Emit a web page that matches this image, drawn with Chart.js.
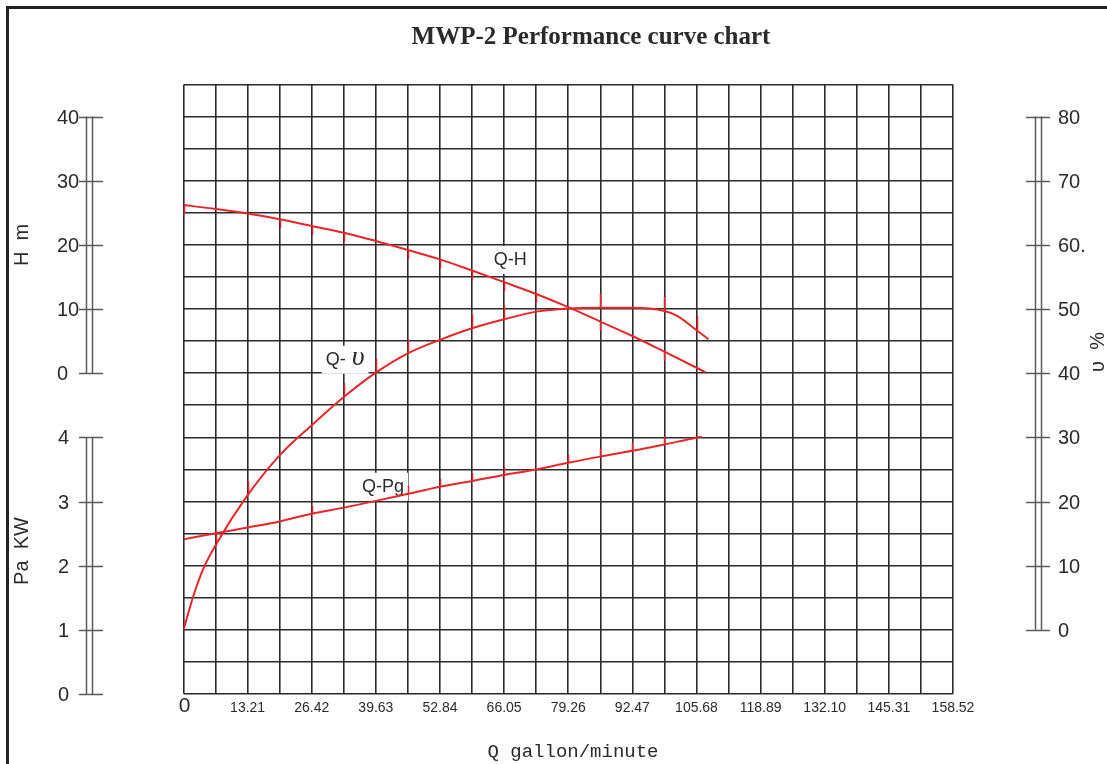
<!DOCTYPE html>
<html><head><meta charset="utf-8">
<script src="https://cdn.jsdelivr.net/npm/chart.js@4.4.1/dist/chart.umd.min.js"></script>
<style>html,body{margin:0;padding:0;background:#fff;}#wrap{width:1107px;height:764px;position:relative;}</style>
</head><body><div id="wrap"><canvas id="c"></canvas></div>
<script>
// ---- data (Q in gallon/minute) ----
const chartTitle = 'MWP-2 Performance curve chart';
const xTitle = 'Q gallon/minute';
const xTickLabels = ['0','13.21','26.42','39.63','52.84','66.05','79.26','92.47','105.68','118.89','132.10','145.31','158.52'];
const headTicks = [40, 30, 20, 10, 0];
const headTickLabels = ['40','30','20','10','0'];
const powerTicks = [4, 3, 2, 1, 0];
const powerTickLabels = ['4','3','2','1','0'];
const effTicks = [80, 70, 60, 50, 40, 30, 20, 10, 0];
const effTickLabels = ['80','70','60.','50','40','30','20','10','0'];

const qHead = [0, 6.605, 13.21, 19.815, 26.42, 33.025, 39.63, 46.235, 52.84, 59.445, 66.05, 72.655, 79.26, 85.865, 92.47, 99.075, 105.68, 107.5];
const headM = [26.2, 25.6, 24.9, 24.0, 22.95, 21.9, 20.6, 19.2, 17.75, 16.0, 14.2, 12.35, 10.3, 8.05, 5.8, 3.35, 0.85, 0.15];
const headMarks = [0, 3, 4, 5, 7, 8, 9, 10, 11, 13, 15];

const qEff = [0, 2.0, 4.0, 6.605, 13.21, 19.815, 26.42, 33.025, 39.63, 46.235, 52.84, 59.445, 66.05, 72.655, 79.26, 85.865, 92.47, 99.075, 101.8, 105.68, 108.15];
const effPct = [0, 5.2, 9.4, 13.2, 21.0, 27.2, 31.9, 36.3, 40.1, 43.1, 45.2, 47.0, 48.4, 49.6, 50.1, 50.2, 50.2, 49.7, 48.9, 46.7, 45.3];
const effMarks = [3, 4, 7, 8, 9, 11, 12, 15, 17, 19];

const qPow = [0, 6.605, 13.21, 19.815, 26.42, 33.025, 39.63, 46.235, 52.84, 59.445, 66.05, 72.655, 79.26, 85.865, 92.47, 99.075, 105.68, 106.8];
const powKW = [2.41, 2.505, 2.595, 2.69, 2.81, 2.905, 3.01, 3.12, 3.23, 3.32, 3.415, 3.5, 3.605, 3.7, 3.79, 3.89, 3.995, 4.01];
const powMarks = [4, 7, 8, 9, 10, 12, 13, 14, 15];

const curveLabels = [
  {text: 'Q-H', q: 67.3, v: 17.65, axis: 'yH'},
  {text: 'Q-', sym: 'υ', q: 33.3, v: 42.1, axis: 'yE'},
  {text: 'Q-Pg', q: 41.1, v: 3.23, axis: 'yP'}
];

const RED = '#e8262a';
const GRID = '#2b2b2b';
const AX = '#5a5a5a';
const TXT = '#2a2a2a';

function pts(xs, ys){ return xs.map((x,i)=>({x:x, y:ys[i]})); }

const custom = {
  id: 'custom',
  beforeDraw(chart){
    const ctx = chart.ctx;
    ctx.save();
    ctx.fillStyle = '#fff';
    ctx.fillRect(0,0,chart.width,chart.height);
    ctx.strokeStyle = '#222';
    ctx.lineWidth = 3;
    ctx.beginPath();
    ctx.moveTo(7.5, chart.height+5); ctx.lineTo(7.5, 7.5); ctx.lineTo(chart.width+5, 7.5);
    ctx.stroke();
    ctx.restore();
  },
  beforeDatasetsDraw(chart){
    const ctx = chart.ctx;
    ctx.save();
    curveLabels.forEach(l=>{
      const x = chart.scales.x.getPixelForValue(l.q);
      const y = chart.scales[l.axis].getPixelForValue(l.v);
      ctx.font = '18px "Liberation Sans", Arial, sans-serif';
      let w = ctx.measureText(l.text).width;
      let w2 = 0;
      if (l.sym){ ctx.font = 'italic 28px "Liberation Serif", serif'; w2 = ctx.measureText(l.sym).width + 6; }
      const tw = w + w2;
      ctx.fillStyle = '#fff';
      ctx.fillRect(x - tw/2 - 4, y - 14, tw + 8, 28);
      ctx.fillStyle = TXT;
      ctx.textBaseline = 'middle';
      ctx.textAlign = 'left';
      ctx.font = '18px "Liberation Sans", Arial, sans-serif';
      ctx.fillText(l.text, x - tw/2, y);
      if (l.sym){ ctx.font = 'italic 28px "Liberation Serif", serif'; ctx.fillText(l.sym, x - tw/2 + w + 6, y - 2); }
    });
    ctx.restore();
  },
  afterDatasetsDraw(chart){
    const ctx = chart.ctx;
    ctx.save();
    chart.data.datasets.forEach((ds, di)=>{
      const meta = chart.getDatasetMeta(di);
      ctx.strokeStyle = RED;
      ctx.lineWidth = 1.5;
      (ds.markIdx||[]).forEach(i=>{
        const p = meta.data[i];
        if(!p) return;
        ctx.beginPath();
        ctx.moveTo(Math.round(p.x)+0.5, p.y);
        ctx.lineTo(Math.round(p.x)+0.5, p.y + ds.markDir*ds.markLen);
        ctx.stroke();
      });
    });
    ctx.restore();
  },
  afterDraw(chart){
    const ctx = chart.ctx;
    const sx = chart.scales.x;
    ctx.save();
    // side scales
    function bar(scale, vals, labs, x1, x2, t1, t2, lx, align){
      const top = scale.getPixelForValue(vals[0]);
      const bot = scale.getPixelForValue(vals[vals.length-1]);
      ctx.strokeStyle = AX; ctx.lineWidth = 1.5;
      ctx.beginPath();
      ctx.moveTo(x1, top); ctx.lineTo(x1, bot);
      ctx.moveTo(x2, top); ctx.lineTo(x2, bot);
      ctx.stroke();
      ctx.font = '20px "Liberation Sans", Arial, sans-serif';
      ctx.fillStyle = TXT; ctx.textBaseline = 'middle'; ctx.textAlign = align;
      vals.forEach((v,i)=>{
        const y = Math.round(scale.getPixelForValue(v)) + 0.5;
        ctx.beginPath(); ctx.moveTo(t1, y); ctx.lineTo(t2, y); ctx.stroke();
        ctx.fillText(labs[i], lx, y + 1);
      });
    }
    bar(chart.scales.yH, headTicks, headTickLabels, 86.5, 92.5, 79, 103, 57, 'left');
    bar(chart.scales.yP, powerTicks, powerTickLabels, 86.5, 92.5, 79, 103, 58, 'left');
    bar(chart.scales.yE, effTicks, effTickLabels, 1035.5, 1041.5, 1026, 1050, 1058, 'left');
    // x tick labels
    ctx.fillStyle = TXT; ctx.textAlign = 'center'; ctx.textBaseline = 'middle';
    xTickLabels.forEach((t,i)=>{
      const x = sx.getPixelForValue(parseFloat(t));
      if (i === 0){ ctx.font = '21px "Liberation Sans", Arial, sans-serif'; ctx.fillText(t, x + 1, 706); }
      else { ctx.font = '14px "Liberation Sans", Arial, sans-serif'; ctx.fillText(t, x, 708); }
    });
    // titles
    ctx.font = 'bold 25px "Liberation Serif", serif';
    ctx.fillText(chartTitle, 591, 38);
    ctx.font = '19px "Liberation Mono", monospace';
    ctx.fillText(xTitle, 573, 752);
    function vtext(t, x, y){ ctx.save(); ctx.translate(x,y); ctx.rotate(-Math.PI/2); ctx.fillText(t,0,0); ctx.restore(); }
    ctx.font = '20px "Liberation Sans", Arial, sans-serif';
    vtext('H  m', 22, 245);
    vtext('Pa  KW', 22, 551);
    vtext('υ  %', 1098, 352);
    ctx.restore();
  }
};

function gridTicks(n, step){ const a=[]; for(let i=0;i<=n;i++) a.push({value: +(i*step).toFixed(4)}); return a; }

new Chart(document.getElementById('c'), {
  type: 'line',
  data: {
    datasets: [
      {label: 'Q-H', data: pts(qHead, headM), yAxisID: 'yH', markIdx: headMarks, markDir: 1, markLen: 9},
      {label: 'Q-υ', data: pts(qEff, effPct), yAxisID: 'yE', markIdx: effMarks, markDir: -1, markLen: 14},
      {label: 'Q-Pa', data: pts(qPow, powKW), yAxisID: 'yP', markIdx: powMarks, markDir: -1, markLen: 8}
    ].map(d => Object.assign({borderColor: RED, borderWidth: 2, pointRadius: 0, fill: false, cubicInterpolationMode: 'monotone', xAxisID: 'x'}, d))
  },
  options: {
    responsive: true, maintainAspectRatio: false, animation: false,
    layout: {padding: {left: 183.5, right: 154, top: 84.5, bottom: 70}},
    plugins: {legend: {display: false}, tooltip: {enabled: false}, title: {display: false}},
    scales: {
      x: {type: 'linear', min: 0, max: 158.52, position: 'bottom',
          afterBuildTicks: s => { s.ticks = gridTicks(24, 6.605); },
          ticks: {display: false}, border: {display: false},
          grid: {color: GRID, lineWidth: 1.6, drawTicks: false},
          afterFit: s => { s.height = 0; }},
      yg: {type: 'linear', min: 0, max: 19, position: 'left',
          afterBuildTicks: s => { s.ticks = gridTicks(19, 1); },
          ticks: {display: false}, border: {display: false},
          grid: {color: GRID, lineWidth: 1.6, drawTicks: false},
          afterFit: s => { s.width = 0; }},
      yH: {type: 'linear', min: -50, max: 45, display: false},
      yP: {type: 'linear', min: 0, max: 9.5, display: false},
      yE: {type: 'linear', min: -10, max: 85, display: false}
    }
  },
  plugins: [custom]
});
</script></body></html>
